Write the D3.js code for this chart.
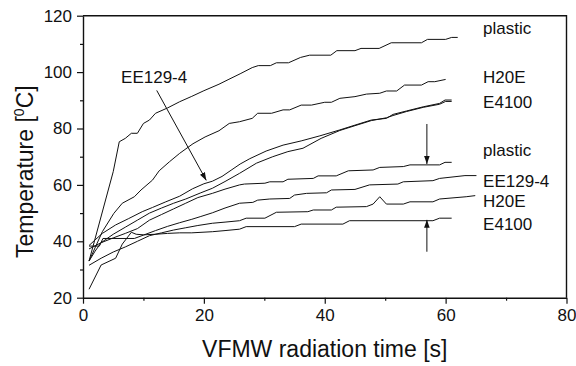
<!DOCTYPE html>
<html>
<head>
<meta charset="utf-8">
<script src="https://cdn.jsdelivr.net/npm/d3@7"></script>
<style>
  body { margin: 0; background: #fff; }
  text { font-family: Arial, "Liberation Sans", sans-serif; fill: #111; }
</style>
</head>
<body>
<div id="chart"></div>
<script>
// curves, [time in s, temperature in C]
const plasticUp = [[1,33],[5,64.7],[6,75.3],[7,76.5],[8,78.3],[9,78.3],[10,81.8],[11,83],[12,85.4],[14,87.3],[16,89.5],[18,91.4],[20,93.4],[22.5,95.7],[24,97.3],[26,99.4],[28,101.6],[29,102.3],[31,102.3],[32,103.3],[34,103.3],[36,105.2],[37.5,106],[41,106],[42,107.6],[45,107.6],[46,108.4],[49,108.4],[51,110.4],[56,110.4],[57,111.6],[60,111.6],[61,112.3],[62,112.3]];
const h20eUp = [[1,33],[3.2,43.4],[5.1,49.9],[6.5,53.5],[8.5,55.8],[9.6,58.2],[11.5,61.7],[12.6,65],[14.3,68.2],[16,71.2],[18.2,74.6],[20.2,77],[22.5,79.2],[24.2,81.8],[25.9,82.4],[28,83.6],[28.9,85.4],[31.2,85.4],[33.1,86.6],[34.2,86.6],[36.1,88.3],[37.8,88.3],[40,89.3],[41.1,89.3],[42.5,90.7],[45,91.3],[46.9,92.2],[49.1,92.5],[50.2,93.3],[51.9,93.3],[53.2,95.4],[56,95.4],[57.1,96.6],[58.2,96.6],[60,97.4]];
const ee129Up = [[1,38.5],[2,40.5],[3.2,42.8],[5.4,45.8],[7.5,48],[9.8,50.5],[11.5,52],[13.7,54],[16,56],[18.1,58.6],[20,60.4],[21.4,61.3],[23,63],[24.5,65.2],[26,67.4],[27.6,69.3],[30.3,72],[33.1,74.1],[36.1,75.6],[39.2,77.4],[42.5,79.5],[45,81.2],[47.7,83],[50.2,83.6],[51.3,85],[53.5,86.2],[56.3,87.7],[59,88.9],[59.9,90.1],[61,90.1]];
const e4100Up = [[1,33],[2,36.5],[3,39.5],[5,42.5],[7,45],[9,47.5],[11,50],[13,51.8],[15,53.5],[17,55],[19.5,57.2],[21.4,58.8],[23.5,61.2],[25.9,64.1],[28.7,67.7],[31.4,70],[33.9,71.8],[36.4,73],[39.4,76.5],[42.5,79.3],[45,81],[47.7,82.8],[50.2,83.8],[51.3,84.6],[53.5,86],[56.3,87.5],[59,88.6],[60,89.6],[61,89.6]];
const plasticLow = [[1,37.3],[3,39.5],[5,41.2],[7,42.8],[9,44.5],[11,47.5],[13,49.5],[15,51.5],[17,53.5],[19,55.5],[21.4,57],[23.5,58.5],[25.9,60],[26.7,60.3],[30.1,60.6],[30.9,61.1],[33.1,61.1],[33.9,62],[38.1,62.3],[38.9,63.2],[41.9,63.2],[43.9,65],[48,65.3],[49.1,66.2],[53,66.5],[54.1,67.1],[59,67.1],[59.9,68],[61,68]];
const ee129Low = [[1,38.3],[2.7,38.3],[3.3,41],[8.5,41],[10,42.2],[12,43.8],[14,45.3],[16,46.6],[18,47.8],[19.5,48.8],[21.4,50.1],[23.5,51.8],[25.9,53.5],[28.1,53.8],[28.9,54.6],[30.9,55],[34.2,55.2],[35,56.4],[37,57],[40.3,57.2],[41.1,58.2],[45,58.4],[47.4,60],[52.1,60.3],[53,61.1],[57.9,61.5],[59,62.3],[63.2,63.3],[65.1,63.3]];
const h20eLow = [[1,31.5],[3,34],[5,36.2],[7,38],[9,40],[11,42],[13,43],[15,44],[17,44.8],[19,45.6],[21.4,46.4],[23.5,46.8],[25.9,47.3],[27,48.2],[30.1,48.2],[32,50.3],[37.2,50.5],[38.1,51.1],[41.1,51.1],[41.9,52.1],[46.9,52.3],[48,53.2],[49.1,55.8],[50.2,53.2],[53,53.2],[54.1,54],[57.9,54],[59,55],[63.4,55.8],[64.9,56.2]];
const e4100Low = [[1,23],[3,31.6],[5.4,34],[6.5,39],[8,43.2],[8.8,42.5],[10,42.3],[12,42.5],[14,42.8],[16,43],[18,43],[21.4,43.4],[23.5,43.8],[25.9,44.3],[27,45.2],[35,45.2],[36.1,46.1],[43,46.1],[44.1,47.3],[57.9,47.3],[59,48.2],[61,48.2]];

const curves = [plasticUp, h20eUp, ee129Up, e4100Up, plasticLow, ee129Low, h20eLow, e4100Low];

// labels at the right end, with the temperature of each baseline
const endLabels = ["plastic", "H20E", "E4100", "plastic", "EE129-4", "H20E", "E4100"];
const endLabelTemps = [113.5, 96, 87.1, 70.1, 59.4, 52, 44];
const endLabelTime = 66.2;

const xTicks = [0, 20, 40, 60, 80];
const yTicks = [20, 40, 60, 80, 100, 120];

// set the dimensions and margins of the graph
var margin = {top: 15.7, right: 9.5, bottom: 68.3, left: 83},
    width = 576 - margin.left - margin.right,
    height = 366 - margin.top - margin.bottom;

var svg = d3.select("#chart")
  .append("svg")
    .attr("width", 576)
    .attr("height", 366)
  .append("g")
    .attr("transform", `translate(${margin.left}, ${margin.top})`);

const x = d3.scaleLinear().domain([0, 80]).range([0, width]);
const y = d3.scaleLinear().domain([20, 120]).range([height, 0]);

// arrow head
svg.append("defs").append("marker")
    .attr("id", "head")
    .attr("viewBox", "0 0 10 10")
    .attr("refX", 10).attr("refY", 5)
    .attr("markerWidth", 8).attr("markerHeight", 8)
    .attr("markerUnits", "userSpaceOnUse")
    .attr("orient", "auto")
  .append("path")
    .attr("d", "M0,1.5 L10,5 L0,8.5 Z")
    .attr("fill", "#111");

// minor ticks
svg.append("g")
    .attr("transform", `translate(0,${height})`)
    .call(d3.axisBottom(x).tickValues([10, 30, 50, 70]).tickSize(3).tickFormat(""))
    .call(g => g.select(".domain").remove());
svg.append("g")
    .call(d3.axisLeft(y).tickValues([30, 50, 70, 90, 110]).tickSize(3).tickFormat(""))
    .call(g => g.select(".domain").remove());

// major ticks
const xAxis = svg.append("g")
    .attr("transform", `translate(0,${height})`)
    .call(d3.axisBottom(x).tickValues(xTicks).tickSize(6).tickSizeOuter(0).tickPadding(5));
const yAxis = svg.append("g")
    .call(d3.axisLeft(y).tickValues(yTicks).tickSize(6).tickSizeOuter(0).tickPadding(5));

svg.selectAll(".tick text")
    .style("font-size", "17px")
    .style("font-family", "Arial, 'Liberation Sans', sans-serif")
    .attr("fill", "#111");
svg.selectAll(".tick line").attr("stroke", "#111").attr("stroke-width", 1.2);
svg.selectAll(".domain").attr("stroke", "#111").attr("stroke-width", 1.4);

// top and right frame
svg.append("path")
    .attr("d", `M0,0 H${width} V${height}`)
    .attr("fill", "none")
    .attr("stroke", "#111")
    .attr("stroke-width", 1.4);

// curves
const line = d3.line()
  .x(function(d) { return x(d[0]); })
  .y(function(d) { return y(d[1]); });

svg.selectAll("path.curve")
  .data(curves)
  .join("path")
    .attr("class", "curve")
    .attr("d", line)
    .attr("fill", "none")
    .attr("stroke", "#111")
    .attr("stroke-width", 1);

// end labels
svg.selectAll("text.endlabel")
  .data(endLabels)
  .join("text")
    .attr("class", "endlabel")
    .attr("x", x(endLabelTime))
    .attr("y", function(d, i) { return y(endLabelTemps[i]); })
    .style("font-size", "17px")
    .text(function(d) { return d; });

// annotation for the EE129-4 curve
svg.append("text")
    .attr("x", x(6.3))
    .attr("y", y(96))
    .style("font-size", "17px")
    .text("EE129-4");

const arrows = [
  [[12.2, 93.5], [20.4, 61.6]],
  [[56.9, 81.6], [56.9, 67.4]],
  [[56.9, 36.3], [56.9, 47.6]]
];
svg.selectAll("line.arrow")
  .data(arrows)
  .join("line")
    .attr("class", "arrow")
    .attr("x1", d => x(d[0][0])).attr("y1", d => y(d[0][1]))
    .attr("x2", d => x(d[1][0])).attr("y2", d => y(d[1][1]))
    .attr("stroke", "#111")
    .attr("stroke-width", 1)
    .attr("marker-end", "url(#head)");

// axis titles
svg.append("text")
    .attr("text-anchor", "middle")
    .attr("x", width / 2)
    .attr("y", height + 59)
    .style("font-size", "23px")
    .text("VFMW radiation time [s]");

const yTitle = svg.append("text")
    .attr("text-anchor", "middle")
    .attr("transform", `translate(${-50},${height / 2 + 15}) rotate(-90)`)
    .style("font-size", "23px");
yTitle.append("tspan").text("Temperature [");
yTitle.append("tspan").attr("dy", -9).style("font-size", "14px").text("0");
yTitle.append("tspan").attr("dy", 9).text("C]");
</script>
</body>
</html>
